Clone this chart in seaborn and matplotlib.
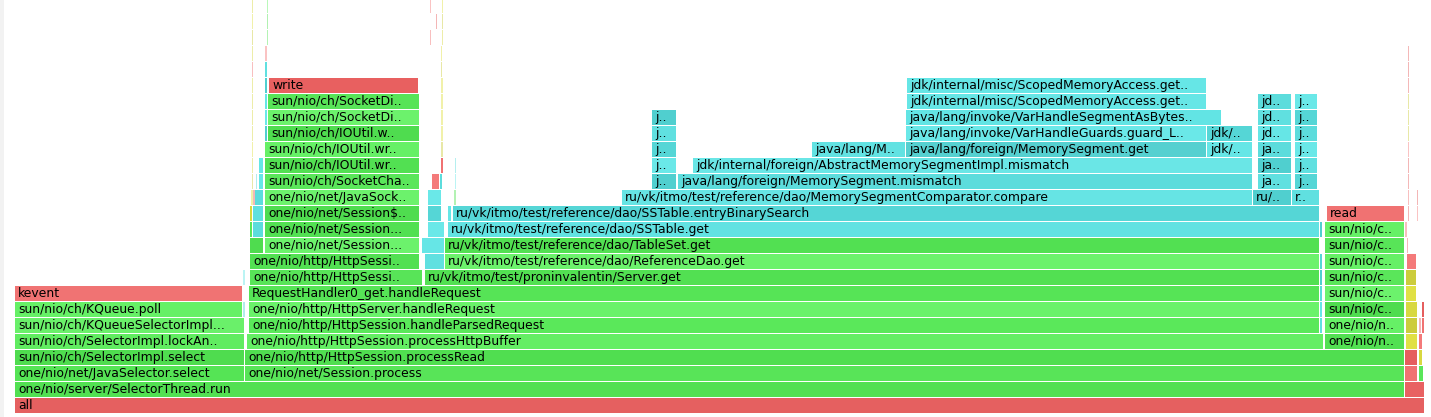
import matplotlib
matplotlib.use("Agg")
import matplotlib.pyplot as plt
import seaborn as sns

# ---------------- data: flame graph frames (samples) ----------------
# one entry per frame; parallel lists
frame_names = [
    "all",                                                   # L0
    "one/nio/server/SelectorThread.run", "",                 # L1
    "one/nio/net/JavaSelector.select", "one/nio/net/Session.process", "", "",   # L2
    "sun/nio/ch/SelectorImpl.select", "one/nio/http/HttpSession.processRead", "", "",  # L3
    "sun/nio/ch/SelectorImpl.lockAn..", "one/nio/http/HttpSession.processHttpBuffer", "one/nio/n..", "", "",  # L4
    "sun/nio/ch/KQueueSelectorImpl...", "one/nio/http/HttpSession.handleParsedRequest", "", "one/nio/n..", "", "", "",  # L5
    "sun/nio/ch/KQueue.poll", "", "one/nio/http/HttpServer.handleRequest", "", "sun/nio/c..", "", "",  # L6
    "kevent", "RequestHandler0_get.handleRequest", "", "sun/nio/c..", "",  # L7
    "", "one/nio/http/HttpSessi..", "ru/vk/itmo/test/proninvalentin/Server.get", "", "sun/nio/c..", "",  # L8
    "one/nio/http/HttpSessi..", "", "ru/vk/itmo/test/reference/dao/ReferenceDao.get", "", "sun/nio/c..", "",  # L9
    "", "one/nio/net/Session...", "", "ru/vk/itmo/test/reference/dao/TableSet.get", "sun/nio/c..", "",  # L10
    "", "", "one/nio/net/Session...", "", "ru/vk/itmo/test/reference/dao/SSTable.get", "", "sun/nio/c..", "",  # L11
    "", "", "one/nio/net/Session$..", "", "", "ru/vk/itmo/test/reference/dao/SSTable.entryBinarySearch", "read", "", "",  # L12
    "", "", "", "one/nio/net/JavaSock..", "", "", "ru/vk/itmo/test/reference/dao/MemorySegmentComparator.compare", "ru/..", "r..", "", "",  # L13
    "", "", "", "sun/nio/ch/SocketCha..", "", "", "", "j..", "java/lang/foreign/MemorySegment.mismatch", "ja..", "j..", "",  # L14
    "", "", "sun/nio/ch/IOUtil.wr..", "", "", "j..", "jdk/internal/foreign/AbstractMemorySegmentImpl.mismatch", "ja..", "j..", "",  # L15
    "", "sun/nio/ch/IOUtil.wr..", "", "j..", "java/lang/M..", "java/lang/foreign/MemorySegment.get", "jdk/..", "ja..", "j..", "",  # L16
    "", "", "sun/nio/ch/IOUtil.w..", "", "j..", "java/lang/invoke/VarHandleGuards.guard_L..", "jdk/..", "jd..", "j..", "",  # L17
    "", "", "sun/nio/ch/SocketDi..", "", "j..", "java/lang/invoke/VarHandleSegmentAsBytes..", "jd..", "j..", "",  # L18
    "", "", "sun/nio/ch/SocketDi..", "", "jdk/internal/misc/ScopedMemoryAccess.get..", "jd..", "j..", "",  # L19
    "", "", "write", "", "jdk/internal/misc/ScopedMemoryAccess.get..", "",  # L20
    "", "", "", "",                                          # L21
    "", "", "", "",                                          # L22
    "", "", "", "",                                          # L23
    "", "", "", "",                                          # L24
    "", "", "", "",                                          # L25
]

frame_levels = (
    [0]
    + [1] * 2
    + [2] * 4
    + [3] * 4
    + [4] * 5
    + [5] * 7
    + [6] * 7
    + [7] * 5
    + [8] * 6
    + [9] * 6
    + [10] * 6
    + [11] * 8
    + [12] * 9
    + [13] * 11
    + [14] * 12
    + [15] * 10
    + [16] * 10
    + [17] * 10
    + [18] * 9
    + [19] * 8
    + [20] * 6
    + [21] * 4
    + [22] * 4
    + [23] * 4
    + [24] * 4
    + [25] * 4
)

frame_starts = [
    0,
    0, 1390,
    0, 230, 1390, 1404,
    0, 230, 1390, 1404,
    0, 232, 1310, 1391, 1404,
    0, 234, 1305, 1310, 1391, 1404, 1407,
    0, 228, 234, 1305, 1310, 1391, 1407,
    0, 234, 1305, 1310, 1391,
    228, 235, 410, 1305, 1310, 1391,
    235, 410, 430, 1305, 1310, 1392,
    235, 250, 407, 430, 1310, 1392,
    235, 238, 250, 413, 433, 1305, 1310, 1390,
    235, 238, 250, 413, 433, 438, 1312, 1393, 1402,
    236, 238, 240, 250, 413, 439, 607, 1238, 1277, 1393, 1402,
    237, 241, 244, 250, 417, 425, 440, 637, 663, 1243, 1280, 1393,
    237, 244, 250, 426, 440, 637, 678, 1243, 1280, 1393,
    237, 250, 426, 637, 797, 891, 1192, 1243, 1280, 1393,
    237, 250, 253, 426, 637, 891, 1192, 1243, 1280, 1393,
    237, 250, 253, 426, 637, 891, 1243, 1280, 1393,
    237, 250, 253, 426, 892, 1243, 1280, 1393,
    237, 250, 254, 426, 892, 1393,
    237, 250, 426, 1393,
    237, 250, 426, 1393,
    237, 252, 415, 427,
    237, 252, 421, 427,
    237, 252, 415, 427,
]

frame_widths = [
    1410,
    1390, 20,
    230, 1160, 13, 5,
    230, 1160, 13, 4,
    230, 1077, 80, 12, 4,
    230, 1071, 3, 80, 12, 2, 3,
    228, 2, 1071, 3, 80, 12, 3,
    228, 1071, 3, 80, 11,
    2, 173, 895, 3, 80, 11,
    170, 20, 875, 3, 80, 10,
    14, 155, 23, 875, 80, 1,
    3, 11, 155, 17, 872, 3, 80, 2,
    3, 11, 155, 14, 4, 867, 78, 1, 1,
    2, 2, 9, 155, 14, 2, 631, 39, 28, 1, 1,
    1, 1, 5, 155, 8, 3, 1, 25, 575, 34, 23, 1,
    1, 5, 155, 3, 1, 25, 560, 34, 23, 1,
    1, 155, 2, 25, 94, 301, 46, 34, 23, 1,
    1, 3, 152, 2, 25, 301, 46, 34, 23, 1,
    1, 3, 152, 2, 25, 316, 34, 23, 1,
    1, 3, 152, 2, 300, 34, 23, 1,
    1, 3, 150, 2, 300, 1,
    1, 3, 1, 1,
    1, 2, 1, 1,
    1, 1, 1, 1,
    1, 1, 1, 1,
    1, 1, 1, 1,
]

# frame type: J = compiled java, I = inlined, N = native, C = C++
frame_kinds = [
    "N",
    "J", "N",
    "J", "J", "N", "J",
    "J", "J", "N", "C",
    "J", "J", "J", "C", "N",
    "J", "J", "I", "J", "C", "N", "N",
    "J", "I", "J", "I", "J", "C", "N",
    "N", "J", "I", "J", "C",
    "I", "J", "J", "I", "J", "C",
    "J", "I", "J", "I", "J", "N",
    "J", "J", "I", "J", "J", "N",
    "J", "I", "J", "I", "I", "I", "J", "N",
    "C", "I", "J", "I", "I", "I", "N", "N", "N",
    "C", "N", "I", "J", "I", "J", "I", "I", "I", "N", "N",
    "C", "I", "I", "J", "N", "I", "I", "I", "I", "I", "I", "N",
    "C", "I", "J", "N", "I", "I", "I", "I", "I", "N",
    "C", "J", "C", "I", "I", "I", "I", "I", "I", "N",
    "C", "I", "J", "C", "I", "I", "I", "I", "I", "C",
    "C", "I", "J", "C", "I", "I", "I", "I", "C",
    "C", "I", "J", "C", "I", "I", "I", "C",
    "C", "I", "N", "C", "I", "N",
    "N", "I", "C", "N",
    "C", "N", "C", "N",
    "C", "J", "N", "C",
    "C", "J", "N", "C",
    "C", "J", "N", "C",
]

assert len(frame_names) == len(frame_levels) == len(frame_starts) == len(frame_widths) == len(frame_kinds)

# ---------------- style ----------------
sns.set_theme(style="white")
plt.rcParams["font.family"] = ["DejaVu Sans"]

shades = {
    "J": ["#5ae65a", "#52e052", "#66f066", "#4fdc4f", "#6cf26c", "#58e458"],
    "I": ["#60e0e0", "#55d6d6", "#66e6e6", "#5cdcdc", "#6ae8e8", "#50cfcf"],
    "N": ["#e86262", "#f07272", "#e55e5e", "#f47a7a"],
    "C": ["#d8d840", "#e0e044", "#cccc3c"],
}
named_colors = {
    "all": "#e56060", "kevent": "#f07373", "write": "#e86060", "read": "#f07272",
    "one/nio/server/SelectorThread.run": "#52e052",
    "one/nio/net/JavaSelector.select": "#55e455",
    "sun/nio/ch/SelectorImpl.select": "#4fdc4f",
    "sun/nio/ch/SelectorImpl.lockAn..": "#60ec60",
    "sun/nio/ch/KQueueSelectorImpl...": "#6af06a",
    "sun/nio/ch/KQueue.poll": "#66f066",
    "one/nio/net/Session.process": "#58e458",
    "one/nio/http/HttpSession.processRead": "#50de50",
    "one/nio/http/HttpSession.processHttpBuffer": "#64ee64",
    "one/nio/http/HttpSession.handleParsedRequest": "#5ae85a",
    "one/nio/http/HttpServer.handleRequest": "#6af26a",
    "RequestHandler0_get.handleRequest": "#56e456",
    "ru/vk/itmo/test/proninvalentin/Server.get": "#52e052",
    "ru/vk/itmo/test/reference/dao/ReferenceDao.get": "#6cf26c",
    "ru/vk/itmo/test/reference/dao/TableSet.get": "#52e052",
    "ru/vk/itmo/test/reference/dao/SSTable.get": "#62e2e2",
    "ru/vk/itmo/test/reference/dao/SSTable.entryBinarySearch": "#55d6d6",
    "ru/vk/itmo/test/reference/dao/MemorySegmentComparator.compare": "#66e4e4",
    "java/lang/foreign/MemorySegment.mismatch": "#5cdcdc",
    "jdk/internal/foreign/AbstractMemorySegmentImpl.mismatch": "#6ae6e6",
    "java/lang/foreign/MemorySegment.get": "#55d0d0",
    "java/lang/M..": "#62e2e2",
    "java/lang/invoke/VarHandleGuards.guard_L..": "#6ae8e8",
    "java/lang/invoke/VarHandleSegmentAsBytes..": "#62e4e4",
    "jdk/internal/misc/ScopedMemoryAccess.get..": "#66e6e6",
}

colors = []
counters = {k: 0 for k in shades}
for name, kind in zip(frame_names, frame_kinds):
    if name in named_colors:
        colors.append(named_colors[name])
    else:
        pal = shades[kind]
        colors.append(pal[counters[kind] % len(pal)])
        counters[kind] += 1

W, H = 1431, 417
fig = plt.figure(figsize=(W / 100, H / 100), dpi=100)
ax = fig.add_axes([0, 0, 1, 1])
ax.set_xlim(-15, 1416)
ax.set_ylim(-0.75, 25.3125)
ax.axis("off")
fig.patch.set_facecolor("white")

# light browser edge on the left
ax.axvspan(-15, -11, color="#f2f2f2", lw=0)

row_h = 15 / 16
for lvl, x0, w, c in zip(frame_levels, frame_starts, frame_widths, colors):
    thin = w <= 2
    draw_w = w - 0.8 if w >= 3 else w * 0.8
    ax.barh(lvl, draw_w, left=x0, height=row_h, color=c, edgecolor="none",
            alpha=0.45 if thin else 1.0, align="center")

for name, lvl, x0, w in zip(frame_names, frame_levels, frame_starts, frame_widths):
    if name and w > 15:
        ax.text(x0 + 3, lvl - 0.02, name, ha="left", va="center",
                fontsize=8.9, color="#000000", clip_on=True)

fig.savefig("out.png", dpi=100, facecolor="white")
